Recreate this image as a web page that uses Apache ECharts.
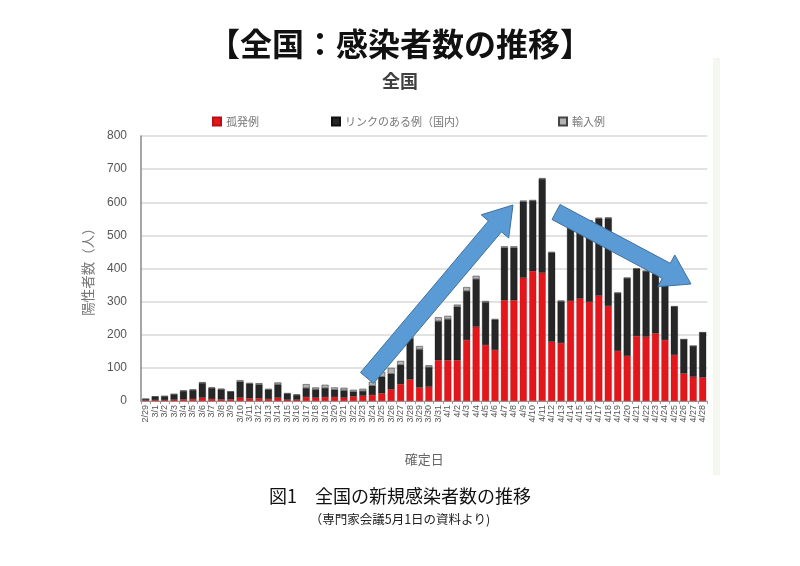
<!DOCTYPE html>
<html><head><meta charset="utf-8">
<script src="https://cdn.jsdelivr.net/npm/echarts@6/dist/echarts.min.js"></script>
<style>html,body{margin:0;padding:0;background:#fff}#c{width:800px;height:566px}</style>
</head><body><div id="c"></div>
<script>
const dates = ["2/29","3/1","3/2","3/3","3/4","3/5","3/6","3/7","3/8","3/9","3/10","3/11","3/12","3/13","3/14","3/15","3/16","3/17","3/18","3/19","3/20","3/21","3/22","3/23","3/24","3/25","3/26","3/27","3/28","3/29","3/30","3/31","4/1","4/2","4/3","4/4","4/5","4/6","4/7","4/8","4/9","4/10","4/11","4/12","4/13","4/14","4/15","4/16","4/17","4/18","4/19","4/20","4/21","4/22","4/23","4/24","4/25","4/26","4/27","4/28"];
const sporadic = [2,3,3,4,5,6,10,6,5,5,10,8,8,6,10,4,4,12,10,12,12,10,14,16,18,23,35,51,65,41,43,123,123,123,184,224,169,154,304,304,372,392,387,179,175,302,309,299,318,287,151,136,196,194,204,184,139,83,73,71];
const linked = [4,10,11,16,25,27,44,33,30,23,48,44,42,28,40,18,14,27,25,27,22,22,14,14,28,50,47,58,124,115,59,118,124,162,148,144,129,91,159,159,230,212,283,269,126,221,242,244,233,265,175,235,203,198,180,184,146,103,93,136];
const imported = [0,1,1,1,2,2,3,2,2,1,5,3,4,3,6,2,2,12,6,10,7,8,6,7,12,15,18,12,6,10,6,12,10,6,12,10,4,3,4,4,3,3,3,2,2,2,2,2,2,2,1,1,1,1,1,1,1,0,0,0];
const yTicks = [0,100,200,300,400,500,600,700,800];

const JP = '"Noto Sans CJK JP","Noto Sans",sans-serif';
const chart = echarts.init(document.getElementById('c'), null, {renderer:'canvas'});

function arrow(x0,y0,x1,y1,w,hw,hl){
  const dx=x1-x0, dy=y1-y0, L=Math.hypot(dx,dy);
  const ux=dx/L, uy=dy/L, nx=-uy, ny=ux;
  const bx=x1-ux*hl, by=y1-uy*hl;
  return [[x0+nx*w,y0+ny*w],[bx+nx*w,by+ny*w],[bx+nx*hw,by+ny*hw],[x1,y1],[bx-nx*hw,by-ny*hw],[bx-nx*w,by-ny*w],[x0-nx*w,y0-ny*w]];
}
const legendBase = {orient:'horizontal', itemWidth:8, itemHeight:8, icon:'rect', itemGap:0,
  textStyle:{fontFamily:JP, fontSize:11, color:'#777'}};

chart.setOption({
  backgroundColor:'#ffffff',
  animation:false,
  title:[
    {text:'【全国：感染者数の推移】', left:'center', top:23, textStyle:{fontFamily:JP, fontSize:32, fontWeight:'bold', color:'#111'}},
    {text:'全国', left:'center', top:67, textStyle:{fontFamily:JP, fontSize:18, fontWeight:'bold', color:'#404040'}},
    {text:'図1　全国の新規感染者数の推移', left:'center', top:482, textStyle:{fontFamily:JP, fontSize:18, fontWeight:'normal', color:'#111'}},
    {text:'（専門家会議5月1日の資料より)', left:'center', top:508, textStyle:{fontFamily:JP, fontSize:12.5, fontWeight:'normal', color:'#222'}}
  ],
  legend:[
    Object.assign({}, legendBase, {data:['孤発例'], left:207, top:111}),
    Object.assign({}, legendBase, {data:['リンクのある例（国内）'], left:326, top:111}),
    Object.assign({}, legendBase, {data:['輸入例'], left:553, top:111})
  ],
  grid:{left:141, right:92.6, top:136, bottom:165, containLabel:false},
  xAxis:{
    type:'category', data:dates,
    name:'確定日', nameLocation:'middle', nameGap:52,
    nameTextStyle:{fontFamily:JP, fontSize:13, color:'#666'},
    axisLine:{lineStyle:{color:'#999', width:1}},
    axisTick:{show:true, alignWithLabel:false, length:3, lineStyle:{color:'#999'}},
    axisLabel:{interval:0, rotate:90, fontSize:9, color:'#555', fontFamily:'"Liberation Sans",sans-serif', margin:4}
  },
  yAxis:{
    type:'value', min:0, max:800, interval:100,
    name:'陽性者数（人）', nameLocation:'middle', nameGap:46,
    nameTextStyle:{fontFamily:JP, fontSize:13.5, color:'#777'},
    axisLine:{show:true, lineStyle:{color:'#888', width:1.5}},
    axisTick:{show:false},
    axisLabel:{fontSize:12, color:'#555', fontFamily:'"Liberation Sans",sans-serif', margin:14,
      formatter:v=> yTicks.indexOf(v)>=0 ? String(v) : ''},
    splitLine:{lineStyle:{color:'#d9d9d9', width:1.5}}
  },
  series:[
    {name:'孤発例', type:'bar', stack:'a', data:sporadic, barWidth:7,
      itemStyle:{color:'#e3161b', borderColor:'#b81015', borderWidth:0.3}},
    {name:'リンクのある例（国内）', type:'bar', stack:'a', data:linked, barWidth:7,
      itemStyle:{color:'#262626', borderColor:'#111', borderWidth:0.3}},
    {name:'輸入例', type:'bar', stack:'a', data:imported, barWidth:7,
      itemStyle:{color:'#b3b3b3', borderColor:'#444', borderWidth:0.6}}
  ]
});

chart.setOption({graphic:[
  {type:'rect', shape:{x:713, y:58, width:7, height:417}, style:{fill:'#f4f6f0'}, z:-1},
  {type:'polygon', shape:{points:arrow(367,378,513,205,8.5,18,28)}, style:{fill:'#5b9bd5', stroke:'#41719c', lineWidth:1}, z:100},
  {type:'polygon', shape:{points:arrow(556,212,691,284,8.5,18,28)}, style:{fill:'#5b9bd5', stroke:'#41719c', lineWidth:1}, z:100}
]});
</script></body></html>
